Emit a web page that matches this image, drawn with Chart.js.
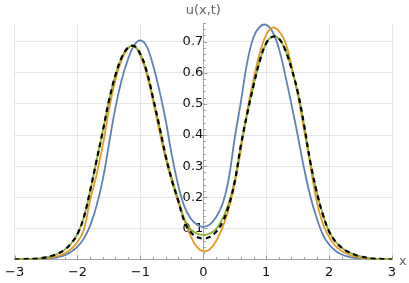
<!DOCTYPE html>
<html>
<head>
<meta charset="utf-8">
<script src="https://cdn.jsdelivr.net/npm/chart.js@4.4.1/dist/chart.umd.min.js"></script>
<style>
  html, body { margin: 0; padding: 0; background: #fff; }
  #wrap { width: 409px; height: 283px; }
</style>
</head>
<body>
<div id="wrap"><canvas id="myChart" width="409" height="283"></canvas></div>
<script>
// x positions (step 0.1 from -3 to 3)
const xs = [-3.0, -2.9, -2.8, -2.7, -2.6, -2.5, -2.4, -2.3, -2.2, -2.1,
            -2.0, -1.9, -1.8, -1.7, -1.6, -1.5, -1.4, -1.3, -1.2, -1.1,
            -1.0, -0.9, -0.8, -0.7, -0.6, -0.5, -0.4, -0.3, -0.2, -0.1,
             0.0,  0.1,  0.2,  0.3,  0.4,  0.5,  0.6,  0.7,  0.8,  0.9,
             1.0,  1.1,  1.2,  1.3,  1.4,  1.5,  1.6,  1.7,  1.8,  1.9,
             2.0,  2.1,  2.2,  2.3,  2.4,  2.5,  2.6,  2.7,  2.8,  2.9, 3.0];

const blue = [0, 0, 0.001, 0.001, 0.002, 0.003, 0.005, 0.008, 0.014, 0.025,
              0.041, 0.067, 0.108, 0.17, 0.255, 0.37, 0.485, 0.575, 0.642, 0.688,
              0.704, 0.685, 0.625, 0.545, 0.45, 0.335, 0.24, 0.17, 0.132, 0.112,
              0.105, 0.112, 0.135, 0.175, 0.255, 0.39, 0.51, 0.635, 0.715, 0.748,
              0.754, 0.732, 0.68, 0.595, 0.50, 0.40, 0.295, 0.205, 0.135, 0.08,
              0.048, 0.028, 0.016, 0.009, 0.005, 0.003, 0.002, 0.001, 0, 0, 0];

const orange = [0, 0, 0.001, 0.001, 0.002, 0.004, 0.007, 0.012, 0.02, 0.034,
                0.056, 0.095, 0.19, 0.27, 0.365, 0.48, 0.575, 0.64, 0.678, 0.685,
                0.655, 0.595, 0.51, 0.415, 0.325, 0.25, 0.185, 0.125, 0.075, 0.04,
                0.027, 0.032, 0.058, 0.10, 0.16, 0.245, 0.355, 0.48, 0.58, 0.665,
                0.722, 0.745, 0.735, 0.70, 0.625, 0.53, 0.42, 0.305, 0.19, 0.115,
                0.072, 0.044, 0.027, 0.017, 0.01, 0.006, 0.003, 0.002, 0.001, 0, 0];

const green = [0, 0.001, 0.001, 0.002, 0.004, 0.007, 0.012, 0.02, 0.032, 0.052,
               0.082, 0.135, 0.22, 0.315, 0.41, 0.51, 0.59, 0.648, 0.68, 0.686,
               0.66, 0.605, 0.52, 0.43, 0.335, 0.26, 0.195, 0.13, 0.097, 0.083,
               0.079, 0.083, 0.097, 0.128, 0.178, 0.255, 0.37, 0.47, 0.56, 0.64,
               0.695, 0.716, 0.71, 0.675, 0.615, 0.54, 0.435, 0.315, 0.22, 0.145,
               0.09, 0.058, 0.038, 0.025, 0.016, 0.01, 0.006, 0.003, 0.002, 0.001, 0];

const exact = [0, 0.001, 0.001, 0.002, 0.004, 0.007, 0.012, 0.02, 0.032, 0.052,
               0.082, 0.135, 0.22, 0.315, 0.41, 0.51, 0.59, 0.648, 0.68, 0.686,
               0.66, 0.605, 0.52, 0.43, 0.335, 0.255, 0.19, 0.122, 0.088, 0.072,
               0.068, 0.072, 0.088, 0.118, 0.17, 0.25, 0.37, 0.47, 0.56, 0.64,
               0.695, 0.716, 0.71, 0.675, 0.615, 0.54, 0.435, 0.315, 0.22, 0.145,
               0.09, 0.058, 0.038, 0.025, 0.016, 0.01, 0.006, 0.003, 0.002, 0.001, 0];

const xTicks = [-3, -2, -1, 0, 1, 2, 3];
const yTicks = [0.1, 0.2, 0.3, 0.4, 0.5, 0.6, 0.7];

const pts = ys => xs.map((x, i) => ({x: x, y: ys[i]}));
const fmt = v => (v < 0 ? '\u2212' + Math.abs(v) : String(v));

// small ticks on the axes + axis names, like Mathematica
const axisExtras = {
    id: 'axisExtras',
    beforeDatasetsDraw(chart) {
        const {ctx, scales: {x, y}} = chart;
        const x0 = x.getPixelForValue(0);
        const y0 = y.getPixelForValue(0);
        ctx.save();
        ctx.strokeStyle = '#9a9a9a';
        ctx.lineWidth = 1;
        ctx.beginPath();
        for (let i = -15; i <= 15; i++) {
            const px = Math.round(x.getPixelForValue(i / 5)) + 0.5;
            const len = i % 5 === 0 ? 4 : 2.5;
            ctx.moveTo(px, y0);
            ctx.lineTo(px, y0 - len);
        }
        for (let j = 1; j <= 38; j++) {
            const v = j / 50;
            if (v > y.max) break;
            const py = Math.round(y.getPixelForValue(v)) + 0.5;
            const len = j % 5 === 0 ? 4 : 2.5;
            ctx.moveTo(x0, py);
            ctx.lineTo(x0 + len, py);
        }
        ctx.stroke();
        ctx.restore();
    },
    afterDraw(chart) {
        const {ctx, scales: {x, y}} = chart;
        ctx.save();
        ctx.fillStyle = '#666';
        ctx.font = '13px "DejaVu Sans"';
        ctx.textAlign = 'center';
        ctx.textBaseline = 'middle';
        ctx.fillText('u(x,t)', x.getPixelForValue(0), 11);
        ctx.textAlign = 'left';
        ctx.fillText('x', x.right + 7, y.getPixelForValue(0) + 2);
        ctx.restore();
    }
};

const ctx = document.getElementById('myChart');

new Chart(ctx, {
    type: 'scatter',
    data: {
        datasets: [
            {data: pts(blue), borderColor: '#5E81B5', borderWidth: 1.8, order: 3},
            {data: pts(orange), borderColor: '#E19C24', borderWidth: 1.8, order: 2},
            {data: pts(green), borderColor: '#8FB032', borderWidth: 1.8, order: 1},
            {data: pts(exact), borderColor: '#000', borderWidth: 2.2, borderDash: [5, 4], order: 0}
        ].map(d => Object.assign(d, {
            showLine: true, pointRadius: 0, pointHoverRadius: 0,
            tension: 0.4, fill: false
        }))
    },
    options: {
        responsive: false,
        animation: false,
        events: [],
        layout: { padding: {left: 10, right: 17, top: 23, bottom: 0} },
        plugins: { legend: {display: false}, tooltip: {enabled: false} },
        scales: {
            x: {
                type: 'linear', min: -3, max: 3,
                afterBuildTicks: s => { s.ticks = xTicks.map(v => ({value: v})); },
                afterFit: s => { s.height = 23.5; },
                grid: { color: '#e6e6e6', drawTicks: false },
                border: { color: '#a8a8a8' },
                ticks: { callback: v => fmt(v), color: '#111', padding: 5,
                         maxRotation: 0, font: {family: 'DejaVu Sans', size: 13} }
            },
            y: {
                type: 'linear', min: 0, max: 0.76, position: {x: 0},
                afterBuildTicks: s => { s.ticks = yTicks.map(v => ({value: v})); },
                grid: { color: '#e6e6e6', drawTicks: false },
                border: { color: '#a8a8a8' },
                ticks: { display: false }
            },
            y2: {
                type: 'linear', min: 0, max: 0.76, position: {x: 0}, z: 1,
                afterBuildTicks: s => { s.ticks = yTicks.map(v => ({value: v})); },
                grid: { display: false, drawTicks: false },
                border: { display: false },
                ticks: { callback: v => String(Math.round(v * 10) / 10), color: '#111',
                         padding: 8, font: {family: 'DejaVu Sans', size: 13} }
            }
        }
    },
    plugins: [axisExtras]
});
</script>
</body>
</html>
